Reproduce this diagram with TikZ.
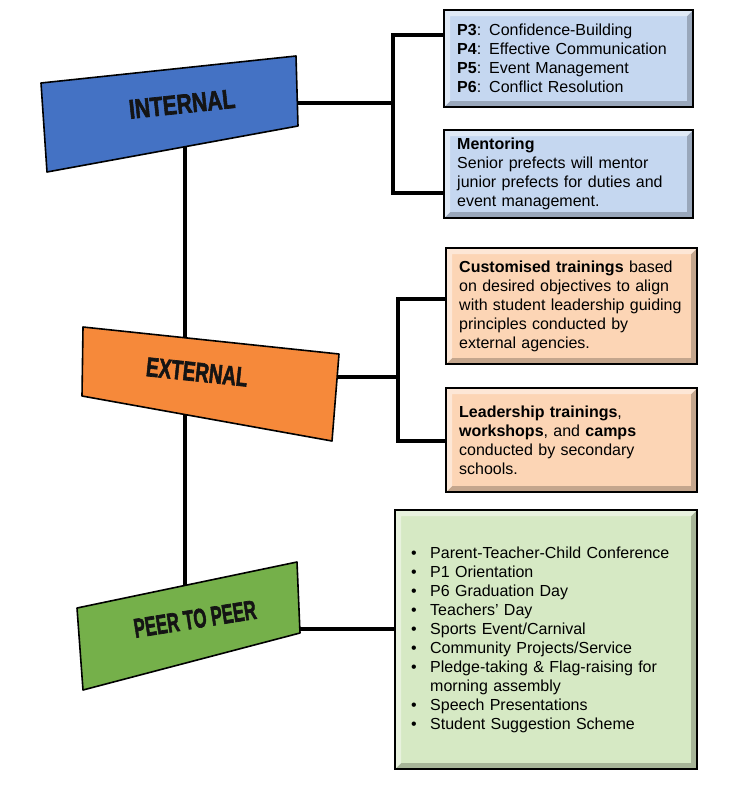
\documentclass[tikz,border=0pt]{standalone}
\usepackage{fontspec}
\setmainfont{Liberation Sans}
\newfontfamily\tagfont{Liberation Sans Bold}[FakeBold=2.5]
\usetikzlibrary{calc,backgrounds}
\definecolor{intblue}{RGB}{68,114,196}
\definecolor{extorange}{RGB}{246,137,58}
\definecolor{peergreen}{RGB}{117,176,74}
\definecolor{intfill}{RGB}{197,215,240}
\definecolor{extfill}{RGB}{252,213,181}
\definecolor{peerfill}{RGB}{214,233,196}
\newcommand{\itm}{\makebox[19pt][l]{\textbullet}}
\tikzset{
	tag/.style={draw=black, line width=1.6pt, line join=round},
	tagtext/.style={inner sep=0pt, text=black!92, font=\fontsize{27}{27}\tagfont},
	wire/.style={draw=black, line width=3.4pt, line join=miter},
	bevelled/.style={path picture={
		\fill[white,opacity=.45] (path picture bounding box.south west) -- (path picture bounding box.north west) -- (path picture bounding box.north east) -- ([shift={(-6pt,-6pt)}]path picture bounding box.north east) -- ([shift={(6pt,-6pt)}]path picture bounding box.north west) -- ([shift={(6pt,6pt)}]path picture bounding box.south west) -- cycle;
		\fill[black,opacity=.22] (path picture bounding box.south west) -- (path picture bounding box.south east) -- (path picture bounding box.north east) -- ([shift={(-6pt,-6pt)}]path picture bounding box.north east) -- ([shift={(-6pt,6pt)}]path picture bounding box.south east) -- ([shift={(6pt,6pt)}]path picture bounding box.south west) -- cycle;
	}},
	infobox/.style={bevelled, draw=black, line width=2.4pt, anchor=north west, align=left, inner xsep=13pt, inner ysep=0pt, font=\fontsize{16}{19}\selectfont},
}

\begin{document}
\begin{tikzpicture}[x=1pt, y=-1pt]
	%%%%% START %%%%%
	\useasboundingbox (0,0) rectangle (733,787);
	
	% tilted headings
	\filldraw[tag, fill=intblue] (41,83) -- (296,56) -- (298,126) -- (47,172) -- cycle;
	\node[tagtext, rotate=6] (inttxt) at (182,104) {\scalebox{.78}[1]{INTERNAL}};
	
	\filldraw[tag, fill=extorange] (83,327) -- (339,354) -- (332,441) -- (82,396) -- cycle;
	\node[tagtext, rotate=-6] (exttxt) at (197,372) {\scalebox{.7}[1]{EXTERNAL}};
	
	\filldraw[tag, fill=peergreen] (77,608) -- (297,562) -- (300,633) -- (83,690) -- cycle;
	\node[tagtext, rotate=9] (peertxt) at (195,619) {\scalebox{.62}[1]{PEER TO PEER}};
	
	\coordinate (intB) at (185,140);
	\coordinate (extC) at (185,385);
	\coordinate (peerT) at (185,615);
	\coordinate (intR) at (297,103);
	\coordinate (extR) at (336,377);
	\coordinate (peerR) at (299,629);
	\coordinate (intJ) at (393,103);
	\coordinate (extJ) at (398,377);
	
	% boxes
	\node[infobox, fill=intfill, minimum width=249pt, minimum height=97pt, text width=223pt] (levels) at (443,9) {\textbf{P3}: Confidence-Building\\ \textbf{P4}: Effective Communication\\ \textbf{P5}: Event Management\\ \textbf{P6}: Conflict Resolution};
	\node[infobox, fill=intfill, minimum width=249pt, minimum height=88pt, text width=223pt] (mentor) at (443,129) {\textbf{Mentoring}\\ Senior prefects will mentor\\ junior prefects for duties and\\ event management.};
	
	\node[infobox, fill=extfill, minimum width=251pt, minimum height=116pt, text width=225pt] (custom) at (445,247) {\textbf{Customised trainings} based\\ on desired objectives to align\\ with student leadership guiding\\ principles conducted by\\ external agencies.};
	\node[infobox, fill=extfill, minimum width=251pt, minimum height=104pt, text width=225pt] (lead) at (445,387) {\textbf{Leadership trainings},\\ \textbf{workshops}, and \textbf{camps}\\ conducted by secondary\\ schools.};
	
	\node[infobox, fill=peerfill, minimum width=302pt, minimum height=259pt, inner xsep=16pt, text width=270pt] (events) at (394,509) {\itm Parent-Teacher-Child Conference\\ \itm P1 Orientation\\ \itm P6 Graduation Day\\ \itm Teachers’ Day\\ \itm Sports Event/Carnival\\ \itm Community Projects/Service\\ \itm Pledge-taking \& Flag-raising for\\ \hspace*{19pt}morning assembly\\ \itm Speech Presentations\\ \itm Student Suggestion Scheme};
	
	% connectors
	\begin{scope}[on background layer]
		\draw[wire] (intB) -- (extC) -- (peerT);
		\draw[wire] (intR) -- (intJ);
		\draw[wire] ($(levels.north west)+(0,26)$) -| (intJ) |- ($(mentor.north west)+(0,64)$);
		\draw[wire] (extR) -- (extJ);
		\draw[wire] ($(custom.north west)+(0,52)$) -| (extJ) |- ($(lead.north west)+(0,54)$);
		\draw[wire] (peerR) -- (events.west |- peerR);
	\end{scope}
	
	%%%%% END %%%%%
\end{tikzpicture}
\end{document}
